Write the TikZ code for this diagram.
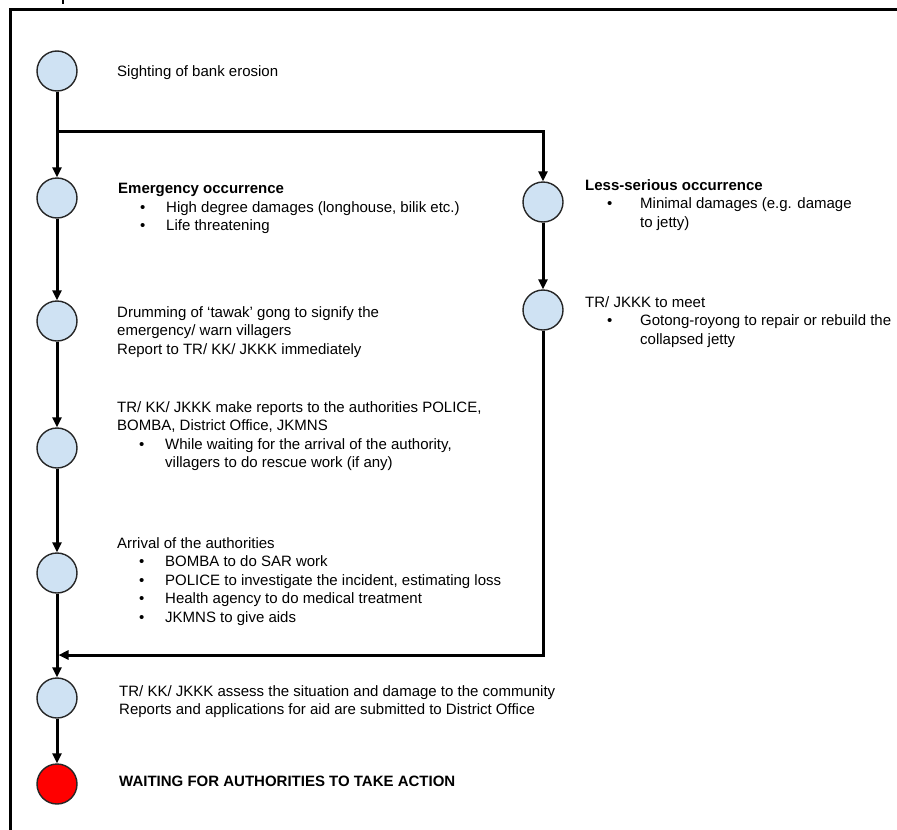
\documentclass[tikz,border=0pt]{standalone}
\usepackage{fontspec}
\setmainfont{Liberation Sans}
\usetikzlibrary{arrows.meta}
\definecolor{stateblue}{RGB}{207,226,243}
\newcommand{\itemL}{\hspace*{22pt}\makebox[26pt][l]{\textbullet}}
\newcommand{\itemR}{\hspace*{22pt}\makebox[33pt][l]{\textbullet}}
\begin{document}
\begin{tikzpicture}[x=1pt,y=-1pt,
  state/.style={circle,draw=black!85,line width=1.4pt,fill=stateblue,minimum size=40pt,inner sep=0pt},
  endstate/.style={state,fill=red},
  flow/.style={line width=3pt,-{Triangle[length=10pt,width=9pt]}},
  plainline/.style={line width=3pt},
  framestyle/.style={line width=3pt},
  txt/.style={anchor=north west,inner sep=0pt,align=left,font=\fontsize{15}{18.5}\selectfont},
]
\useasboundingbox (0,0) rectangle (897,830);
% frame
\draw[framestyle] (897,9) -- (10,9) -- (10,831);
\draw[line width=2pt] (63,0) -- (63,4);

% states
\node[state] (c1) at (57,71) {};
\node[state] (c2) at (57,198) {};
\node[state] (c3) at (57,321) {};
\node[state] (c4) at (57,448) {};
\node[state] (c5) at (57,573) {};
\node[state] (c6) at (57,698) {};
\node[endstate] (c7) at (57,784) {};
\node[state] (r1) at (543,202) {};
\node[state] (r2) at (543,310) {};

\coordinate (split) at (57,131);
\coordinate (corner1) at (543,131);
\coordinate (corner2) at (543,655);
\coordinate (merge) at (57,655);

% connectors
\draw[plainline] (c1) -- (split);
\draw[flow] (split) -- (c2);
\draw[flow] (split) -- (corner1) -- (r1);
\draw[flow] (c2) -- (c3);
\draw[flow] (c3) -- (c4);
\draw[flow] (c4) -- (c5);
\draw[flow] (c5) -- (c6);
\draw[flow] (r1) -- (r2);
\draw[flow,shorten >=1.5pt] (r2) -- (corner2) -- (merge);
\draw[flow] (c6) -- (c7);

% texts
\node[txt] (t1) at (117,65) {Sighting of bank erosion};
\node[txt] (t2) at (118,183) {\textbf{Emergency occurrence}\\
  \itemL High degree damages (longhouse, bilik etc.)\\
  \itemL Life threatening};
\node[txt] (t3) at (117,306) {Drumming of `tawak' gong to signify the\\
  emergency/ warn villagers\\
  Report to TR/ KK/ JKKK immediately};
\node[txt] (t4) at (117,401) {TR/ KK/ JKKK make reports to the authorities POLICE,\\
  BOMBA, District Office, JKMNS\\
  \itemL While waiting for the arrival of the authority,\\
  \hspace*{48pt}villagers to do rescue work (if any)};
\node[txt] (t5) at (117,537) {Arrival of the authorities\\
  \itemL BOMBA to do SAR work\\
  \itemL POLICE to investigate the incident, estimating loss\\
  \itemL Health agency to do medical treatment\\
  \itemL JKMNS to give aids};
\node[txt] (t6) at (119,685) {TR/ KK/ JKKK assess the situation and damage to the community\\
  Reports and applications for aid are submitted to District Office};
\node[txt] (t7) at (119,776) {\textbf{WAITING FOR AUTHORITIES TO TAKE ACTION}};
\node[txt] (r1t) at (585,179) {\textbf{Less-serious occurrence}\\
  \itemR Minimal damages (e.g. damage\\
  \hspace*{55pt}to jetty)};
\node[txt] (r2t) at (585,296) {TR/ JKKK to meet\\
  \itemR Gotong-royong to repair or rebuild the\\
  \hspace*{55pt}collapsed jetty};
\end{tikzpicture}
\end{document}
